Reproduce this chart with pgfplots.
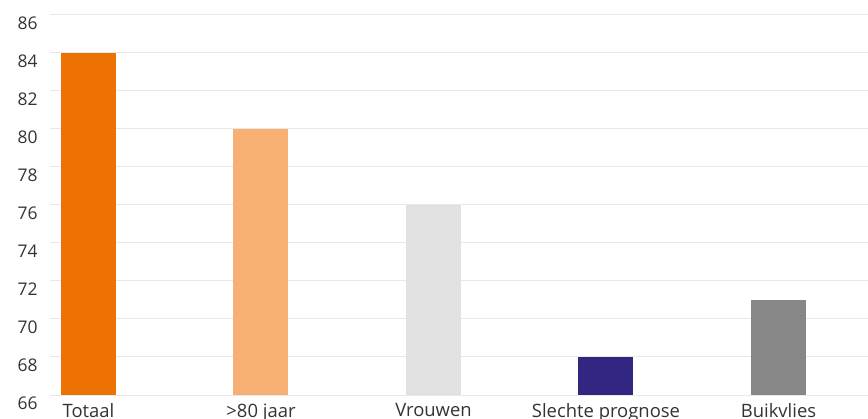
\documentclass[border=0pt]{standalone}
\usepackage{fontspec}
\setmainfont{Open Sans}
\usepackage{pgfplots}
\pgfplotsset{compat=1.18}
\definecolor{cOrange}{HTML}{EE7203}
\definecolor{cLightOrange}{HTML}{F8AF73}
\definecolor{cLightGray}{HTML}{E1E1E1}
\definecolor{cNavy}{HTML}{312783}
\definecolor{cGray}{HTML}{878787}
\definecolor{cGrid}{HTML}{E8E8E8}
\begin{document}
\begin{tikzpicture}
\path[use as bounding box] (0,0) rectangle (868bp,419bp);
\clip (0,0) rectangle (868bp,419bp);
\begin{axis}[
    at={(50bp,24bp)}, anchor=south west,
    width=818bp, height=380bp, scale only axis,
    ymin=66, ymax=86,
    ytick={66,68,...,86},
    xmin=-0.2232, xmax=4.519,
    xtick={0,1,2,3,4},
    xticklabels={Totaal,{>80 jaar},Vrouwen,Slechte prognose,Buikvlies},
    axis line style={draw=none},
    major tick length=0pt,
    ymajorgrids,
    grid style={cGrid, line width=1bp},
    ybar, bar width=55bp,
    /pgf/number format/assume math mode=true,
    tick label style={font=\fontsize{17.5}{20}\selectfont, color=black!80},
    yticklabel style={xshift=-9bp, yshift=-8bp},
    xticklabel style={font=\fontsize{18.5}{20}\selectfont, yshift=-5bp},
    clip=false,
]
\addplot[fill=cOrange, draw=none, bar shift=0pt] coordinates {(0,84)};
\addplot[fill=cLightOrange, draw=none, bar shift=0pt] coordinates {(1,80)};
\addplot[fill=cLightGray, draw=none, bar shift=0pt] coordinates {(2,76)};
\addplot[fill=cNavy, draw=none, bar shift=0pt] coordinates {(3,68)};
\addplot[fill=cGray, draw=none, bar shift=0pt] coordinates {(4,71)};
\end{axis}
\end{tikzpicture}
\end{document}
